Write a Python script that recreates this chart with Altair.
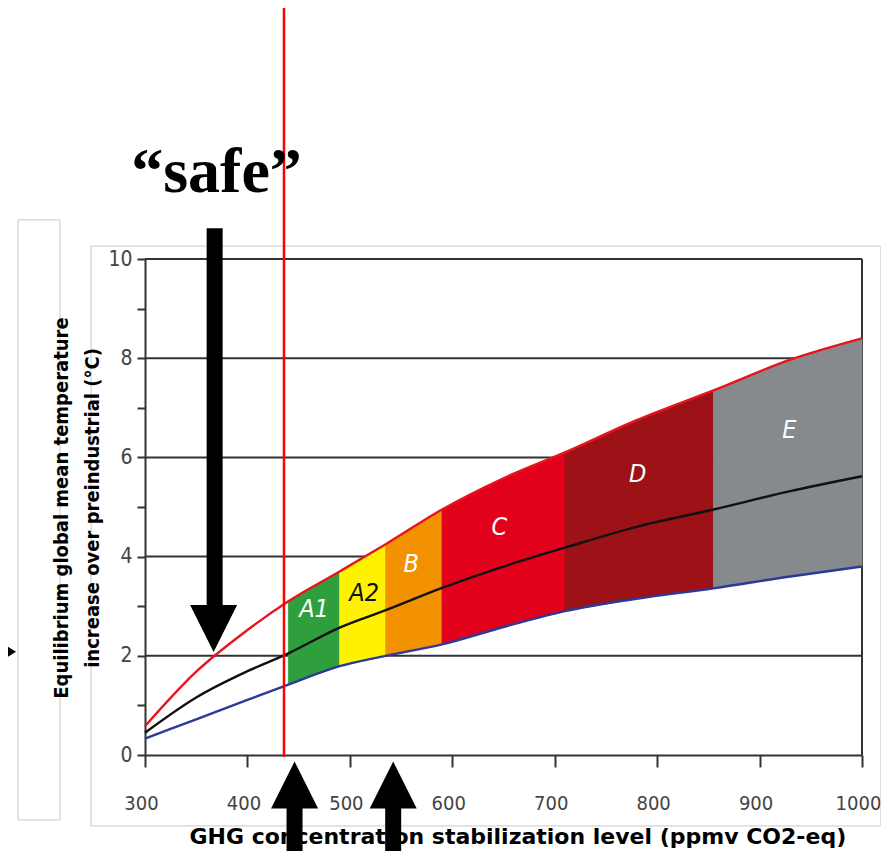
import altair as alt
import pandas as pd

# ---- data ----
x_pts = [300, 350, 400, 440, 490, 535, 590, 650, 710, 780, 855, 930, 1000]
upper = [0.58, 1.68, 2.52, 3.1, 3.7, 4.25, 4.95, 5.58, 6.1, 6.75, 7.35, 7.97, 8.4]
central = [0.45, 1.16, 1.69, 2.05, 2.57, 2.92, 3.37, 3.8, 4.18, 4.6, 4.95, 5.32, 5.62]
lower = [0.33, 0.72, 1.11, 1.42, 1.79, 2.0, 2.23, 2.58, 2.9, 3.15, 3.36, 3.6, 3.8]

band_names = ["A1", "A2", "B", "C", "D", "E"]
band_edges = [440, 490, 535, 590, 710, 855, 1000]
band_colors = ["#2f9e3c", "#fff200", "#f39200", "#e3001b", "#9d1217", "#878a8c"]
label_x = [465, 514, 560, 646, 781, 929]
label_y = [2.94, 3.27, 3.85, 4.6, 5.67, 6.56]
label_colors = ["#ffffff", "#111111", "#ffffff", "#ffffff", "#ffffff", "#ffffff"]

series_names = ["upper", "central", "lower"]
series_colors = ["#e8141c", "#111111", "#2b3a98"]

x_ticks = [300, 400, 500, 600, 700, 800, 900, 1000]
y_ticks = [0, 1, 2, 3, 4, 5, 6, 7, 8, 9, 10]
grid_vals = [2, 4, 6, 8, 10]

x_title = "GHG concentration stabilization level (ppmv CO2-eq)"
y_title = ["Equilibrium global mean temperature", "increase over preindustrial (°C)"]
safe_text = "\u201csafe\u201d"
threshold_ppm = 435.7

NARROW = "DejaVu Sans Condensed, Liberation Sans, sans-serif"

# ---- tables ----
band_rows = []
for i, b in enumerate(band_names):
    for x, u, l in zip(x_pts, upper, lower):
        if band_edges[i] <= x <= band_edges[i + 1]:
            band_rows.append({"band": b, "x": x, "hi": u, "lo": l, "fill": band_colors[i]})
bands_df = pd.DataFrame(band_rows)

curve_rows = []
for name, col, vals in zip(series_names, series_colors, [upper, central, lower]):
    for x, v in zip(x_pts, vals):
        curve_rows.append({"series": name, "x": x, "y": v, "col": col})
curves_df = pd.DataFrame(curve_rows)

labels_df = pd.DataFrame({"band": band_names, "x": label_x, "y": label_y, "c": label_colors})
grid_df = pd.DataFrame({"y": grid_vals, "x": [300] * len(grid_vals), "x2": [1000] * len(grid_vals)})

xs = alt.Scale(domain=[300, 1000], nice=False, zero=False)
ys = alt.Scale(domain=[0, 10], nice=False, zero=False)

x_axis = alt.Axis(values=x_ticks, format="d", title=None, grid=False, domainColor="#333333", domainWidth=2,
                  tickColor="#333333", tickWidth=2, tickSize=12, labelFont=NARROW,
                  labelFontSize=20, labelColor="#444444", labelPadding=26, labelOffset=-4,
                  labelFlush=False)
y_axis = alt.Axis(values=y_ticks, title=None, grid=False, domainColor="#333333", domainWidth=2,
                  tickColor="#333333", tickWidth=2, tickSize=8, labelFont=NARROW,
                  labelFontSize=21, labelColor="#444444", labelPadding=5,
                  labelExpr="datum.value % 2 == 0 ? datum.label : ''")


def X(field):
    return alt.X(field, scale=xs, axis=x_axis)


def Y(field):
    return alt.Y(field, scale=ys, axis=y_axis)


grid = alt.Chart(grid_df).mark_rule(color="#333333", strokeWidth=2).encode(
    x=X("x:Q"), x2="x2:Q", y=Y("y:Q"))
right_edge = alt.Chart(pd.DataFrame({"x": [1000], "y": [0], "y2": [10]})).mark_rule(
    color="#333333", strokeWidth=2).encode(x=X("x:Q"), y=Y("y:Q"), y2="y2:Q")

areas = alt.Chart(bands_df).mark_area(interpolate="monotone", strokeWidth=0.8).encode(
    x=X("x:Q"), y=Y("hi:Q"), y2="lo:Q",
    color=alt.Color("fill:N", scale=None),
    stroke=alt.Stroke("fill:N", scale=None),
    detail="band:N",
)

lines = alt.Chart(curves_df).mark_line(interpolate="monotone", strokeWidth=2.4).encode(
    x=X("x:Q"), y=Y("y:Q"),
    color=alt.Color("col:N", scale=None),
    detail="series:N",
)

band_text = alt.Chart(labels_df).mark_text(font=NARROW, fontStyle="italic",
                                           fontSize=25, align="center", baseline="middle").encode(
    x=X("x:Q"), y=Y("y:Q"), text="band:N", color=alt.Color("c:N", scale=None))

# ---- annotations (in data coordinates) ----
frame = alt.Chart(pd.DataFrame({"x": [247.3], "x2": [1018.5], "y": [-1.43], "y2": [10.26]})).mark_rect(
    fillOpacity=0, stroke="#c8c8c8", strokeWidth=1).encode(x=X("x:Q"), x2="x2:Q", y=Y("y:Q"), y2="y2:Q")
box = alt.Chart(pd.DataFrame({"x": [176.0], "x2": [217.0], "y": [-1.31], "y2": [10.79]})).mark_rect(
    fillOpacity=0, stroke="#c8c8c8", strokeWidth=1).encode(x=X("x:Q"), x2="x2:Q", y=Y("y:Q"), y2="y2:Q")

ytitle_df = pd.DataFrame({"t": y_title, "x": [219.0, 249.5], "y": [4.98, 4.98]})
ytitle = alt.Chart(ytitle_df).mark_text(font=NARROW, fontWeight="bold", fontSize=20,
                                        angle=270, align="center", baseline="middle", color="#000000").encode(
    x=X("x:Q"), y=Y("y:Q"), text="t:N")

xtitle = alt.Chart(pd.DataFrame({"t": [x_title], "x": [664.0], "y": [-1.66]})).mark_text(
    font="DejaVu Sans", fontWeight="bold", fontSize=22, align="center", baseline="middle",
    color="#000000").encode(x=X("x:Q"), y=Y("y:Q"), text="t:N")

red_line = alt.Chart(pd.DataFrame({"x": [threshold_ppm], "y": [-0.04], "y2": [15.2]})).mark_rule(
    color="#ff0000", strokeWidth=2.5).encode(x=X("x:Q"), y=Y("y:Q"), y2="y2:Q")

safe = alt.Chart(pd.DataFrame({"t": [safe_text], "x": [369.8], "y": [11.35]})).mark_text(
    font="Liberation Serif", fontWeight="bold", fontSize=64, align="center", baseline="alphabetic",
    color="#000000").encode(x=X("x:Q"), y=Y("y:Q"), text="t:N")

shafts_df = pd.DataFrame({"x": [368.0, 446.0, 542.3], "y": [10.62, -0.95, -0.95], "y2": [2.9, -2.4, -2.4]})
shafts = alt.Chart(shafts_df).mark_rule(color="#000000", strokeWidth=16).encode(
    x=X("x:Q"), y=Y("y:Q"), y2="y2:Q")

down_head = alt.Chart(pd.DataFrame({"x": [367.0], "y": [2.55]})).mark_point(
    shape="M-1,-1L1,-1L0,1Z", size=2209, filled=True, color="#000000", opacity=1, strokeWidth=0).encode(
    x=X("x:Q"), y=Y("y:Q"))
up_heads = alt.Chart(pd.DataFrame({"x": [446.0, 542.3], "y": [-0.605, -0.605]})).mark_point(
    shape="M-1,1L1,1L0,-1Z", size=2209, filled=True, color="#000000", opacity=1, strokeWidth=0).encode(
    x=X("x:Q"), y=Y("y:Q"))
left_head = alt.Chart(pd.DataFrame({"x": [155.7], "y": [2.08]})).mark_point(
    shape="M-1,-1.25L1,0L-1,1.25Z", size=1414, filled=True, color="#000000", opacity=1, strokeWidth=0).encode(
    x=X("x:Q"), y=Y("y:Q"))

chart = alt.layer(
    frame, box, grid, right_edge, areas, lines, band_text, red_line,
    ytitle, xtitle, safe, shafts, down_head, up_heads, left_head,
).properties(
    width=717, height=496,
    autosize=alt.AutoSizeParams(type="none"),
    padding={"left": 137, "top": 251, "right": 19, "bottom": 96},
    background="#ffffff",
).configure_view(strokeWidth=0)

chart.save("out.html", embed_options={"renderer": "svg", "actions": False})
